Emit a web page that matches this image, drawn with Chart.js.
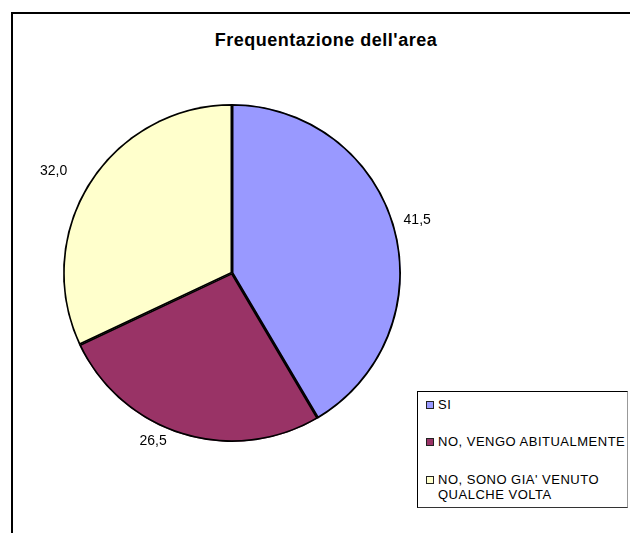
<!DOCTYPE html>
<html>
<head>
<meta charset="utf-8">
<script src="https://cdn.jsdelivr.net/npm/chart.js@4/dist/chart.umd.min.js"></script>
<style>
  body { margin: 0; background: #fff; font-family: "Liberation Sans", Arial, sans-serif; }
  #wrap { position: relative; width: 630px; height: 533px; overflow: hidden; }
  #frame { position: absolute; left: 11px; top: 12px; width: 700px; height: 600px; border: 2px solid #000; box-sizing: border-box; }
  #title { position: absolute; left: 11px; width: 630px; top: 30px; text-align: center; font-weight: bold; font-size: 18px; letter-spacing: 0.5px; color: #000; }
  #pieChart { position: absolute; left: 0; top: 0; }
  #legend { position: absolute; left: 417px; top: 391px; width: 211px; height: 117px; box-sizing: border-box;
            border: 1px solid #000; border-right-color: #999; border-bottom-color: #333; background: #fff; font-size: 13px; letter-spacing: 0.5px; color: #000; }
  .item { position: absolute; left: 8px; display: flex; align-items: flex-start; line-height: 15px; }
  .box { width: 6px; height: 6px; border: 1px solid #222; margin: 4px 4px 0 0; flex: none; }
</style>
</head>
<body>
<div id="wrap">
  <div id="frame"></div>
  <div id="title"></div>
  <canvas id="pieChart" width="630" height="533"></canvas>
  <div id="legend"></div>
</div>
<script>
    const chartTitle = "Frequentazione dell'area";
    const categories = ['SI', 'NO, VENGO ABITUALMENTE', ["NO, SONO GIA' VENUTO", 'QUALCHE VOLTA']];
    const values = [41.5, 26.5, 32.0];
    const colors = ['#9999FF', '#993366', '#FFFFCC'];
    const legendTops = [5, 42, 80];

    document.getElementById('title').textContent = chartTitle;

    function buildLegend() {
        const legendDiv = document.getElementById('legend');
        categories.forEach((cat, i) => {
            const item = document.createElement('div');
            item.className = 'item';
            item.style.top = legendTops[i] + 'px';
            const box = document.createElement('span');
            box.className = 'box';
            box.style.background = colors[i];
            const txt = document.createElement('span');
            txt.innerHTML = (Array.isArray(cat) ? cat : [cat]).join('<br>');
            item.appendChild(box);
            item.appendChild(txt);
            legendDiv.appendChild(item);
        });
    }

    // value labels just outside the slices
    const outsideLabels = {
        id: 'outsideLabels',
        afterDatasetsDraw(chart) {
            const ctx = chart.ctx;
            const meta = chart.getDatasetMeta(0);
            ctx.save();
            ctx.font = '14px "Liberation Sans", Arial, sans-serif';
            ctx.fillStyle = '#000';
            ctx.textBaseline = 'middle';
            meta.data.forEach((arc, i) => {
                const p = arc.getProps(['x', 'y', 'startAngle', 'endAngle', 'outerRadius'], true);
                const mid = (p.startAngle + p.endAngle) / 2;
                const r = p.outerRadius + 12;
                const cx = Math.cos(mid), cy = Math.sin(mid);
                let x = p.x + r * cx;
                if (cx > 0.1) {
                    ctx.textAlign = 'left';
                    x -= 3;
                } else if (cx < -0.1) {
                    ctx.textAlign = 'right';
                    x -= 12;
                } else {
                    ctx.textAlign = 'center';
                }
                ctx.fillText(values[i].toFixed(1).replace('.', ','), x, p.y + r * cy - 5);
            });
            ctx.restore();
        }
    };

    function createChart() {
        const ctx = document.getElementById('pieChart').getContext('2d');
        new Chart(ctx, {
            type: 'pie',
            data: {
                labels: categories,
                datasets: [{
                    data: values,
                    backgroundColor: colors,
                    borderColor: '#000',
                    borderWidth: 1.5,
                    borderAlign: 'inner'
                }]
            },
            options: {
                responsive: false,
                animation: false,
                layout: { padding: { left: 63, top: 104, right: 229, bottom: 91 } },
                plugins: {
                    legend: { display: false },
                    tooltip: { enabled: false }
                }
            },
            plugins: [outsideLabels]
        });
    }

    window.onload = () => {
        buildLegend();
        createChart();
    };
</script>
</body>
</html>
